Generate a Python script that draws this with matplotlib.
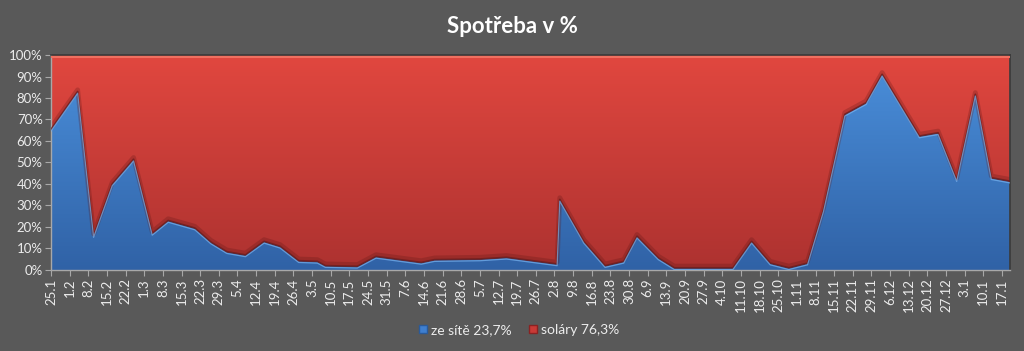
"""Spotřeba v % - stacked 100% area chart (ze sítě vs soláry)."""
import matplotlib
matplotlib.use("Agg")
import matplotlib.pyplot as plt
import numpy as np
from matplotlib.colors import LinearSegmentedColormap
from matplotlib.patches import Patch

# day offsets from 25.1 (irregular readings)
den = [0, 10, 16, 23, 31, 38, 44, 54, 60, 66, 73, 80, 86, 93, 100, 103,
       115, 122, 139, 144, 161, 171, 190, 191, 200, 208, 215, 220, 228, 234,
       256, 263, 270, 277, 284, 290, 298, 306, 312, 326, 333, 340, 347, 353,
       360]
# share from grid in %
ze_site = [65.4, 83, 16, 40, 51.5, 17, 23, 19.5, 13, 8.5, 7, 13.3, 11, 4.3,
           4, 2, 1.7, 6.3, 3.5, 4.8, 5.1, 5.9, 2.8, 32.8, 13.3, 2, 4, 15.7,
           5.6, 1, 1, 13.3, 3.2, 1, 3.2, 28, 72.4, 77.8, 91, 62.3, 63.8, 42,
           81.7, 42.9, 41.3]

tick_labels = ["25.1", "1.2", "8.2", "15.2", "22.2", "1.3", "8.3", "15.3",
               "22.3", "29.3", "5.4", "12.4", "19.4", "26.4", "3.5", "10.5",
               "17.5", "24.5", "31.5", "7.6", "14.6", "21.6", "28.6", "5.7",
               "12.7", "19.7", "26.7", "2.8", "9.8", "16.8", "23.8", "30.8",
               "6.9", "13.9", "20.9", "27.9", "4.10", "11.10", "18.10",
               "25.10", "1.11", "8.11", "15.11", "22.11", "29.11", "6.12",
               "13.12", "20.12", "27.12", "3.1", "10.1", "17.1"]
tick_step = 7

legend_labels = ["ze sítě 23,7%", "soláry 76,3%"]

BG = "#595959"
TXT = "#ececec"

plt.rcParams["font.family"] = ["Lato", "DejaVu Sans"]

x = np.asarray(den, dtype=float)
blue = np.asarray(ze_site, dtype=float)

fig = plt.figure(figsize=(10.24, 3.51), dpi=100, facecolor=BG)
ax = fig.add_axes([0.0498, 0.2308, 0.9365, 0.6125])
ax.set_facecolor(BG)


def gradient_fill(ax, lo, hi, c_top, c_bot):
    poly = ax.fill_between(x, lo, hi, facecolor="none", edgecolor="none")
    cmap = LinearSegmentedColormap.from_list("g", [c_bot, c_top])
    grad = np.linspace(0, 1, 256).reshape(-1, 1)
    img = ax.imshow(grad, extent=[x[0], x[-1], 0, 100], origin="lower",
                    aspect="auto", cmap=cmap, zorder=1)
    img.set_clip_path(poly.get_paths()[0], transform=ax.transData)


gradient_fill(ax, blue, 100, "#e1473f", "#ad3230")
gradient_fill(ax, 0, blue, "#4b90dc", "#3062a6")

# boundary shading / highlights
ax.plot(x, blue + 0.8, color="#5a1414", lw=3.5, alpha=0.25, zorder=2)
ax.plot(x, blue, color="#6e1c1c", lw=1.3, alpha=0.8, zorder=3)
ax.plot(x, blue - 0.8, color="#78b4f0", lw=0.9, alpha=0.7, zorder=3)
ax.plot([x[0], x[-1]], [99.3, 99.3], color="#f07060", lw=1.5, zorder=3)

ax.set_xlim(x[0], x[-1])
ax.set_ylim(0, 100)

ax.set_xticks(np.arange(len(tick_labels)) * tick_step)
ax.set_xticklabels(tick_labels, rotation=90, fontsize=9.5, color=TXT)
ax.set_yticks(np.arange(0, 101, 10))
ax.set_yticklabels([f"{v}%" for v in range(0, 101, 10)], fontsize=9.5,
                   color=TXT)
ax.tick_params(axis="both", colors="#a8a8a8", length=4, width=0.8,
               labelcolor=TXT, pad=2)

for side in ["top", "right"]:
    ax.spines[side].set_color("#3a3a3a")
    ax.spines[side].set_linewidth(1.2)
for side in ["left", "bottom"]:
    ax.spines[side].set_color("#a8a8a8")
    ax.spines[side].set_linewidth(1.0)

fig.text(0.5, 0.925, "Spotřeba v %", ha="center", va="center",
         fontsize=16, fontweight="bold", color="white")

handles = [Patch(facecolor="#3f7fcf", edgecolor="#2a5a9a"),
           Patch(facecolor="#c83a36", edgecolor="#8a2222")]
fig.legend(handles, legend_labels, loc="center", bbox_to_anchor=(0.507, 0.06),
           ncol=2, frameon=False, fontsize=10, labelcolor=TXT,
           handlelength=0.6, handleheight=0.6, handletextpad=0.3,
           columnspacing=1.2)

fig.savefig("out.png", dpi=100, facecolor=BG)
